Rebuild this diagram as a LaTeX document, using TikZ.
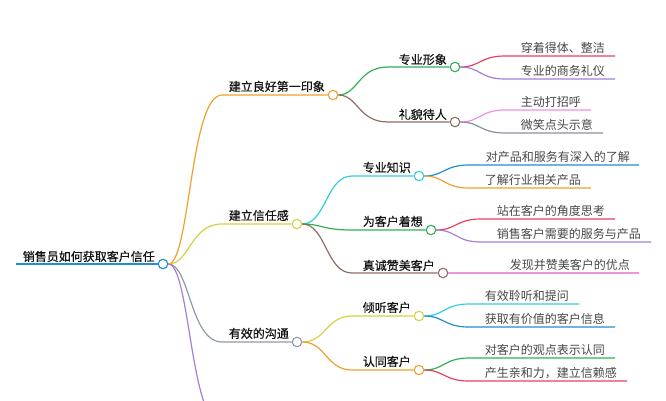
\documentclass[tikz,border=0pt]{standalone}
\usepackage{fontspec}
\setmainfont{Noto Sans CJK SC}
\newfontfamily\boldcjk[FakeBold=0.6]{Noto Sans CJK SC}
\usetikzlibrary{calc}
\tikzset{
  mainlabel/.style={anchor=base east,inner sep=0pt,font=\boldcjk\fontsize{12pt}{14pt}\selectfont,text=black!92},
  leaflabel/.style={anchor=base east,inner sep=0pt,font=\fontsize{12pt}{14pt}\selectfont,text=black!72},
  knob/.style={circle,draw=#1,fill=white,line width=1.1pt,minimum size=9.5pt,inner sep=0pt},
  branch/.style={draw=#1,line width=1.2pt}
}
\definecolor{cblue}{HTML}{1F8FD0}
\definecolor{corange}{HTML}{F0A030}
\definecolor{cyellow}{HTML}{D8D040}
\definecolor{cgray}{HTML}{9098A8}
\definecolor{cpurple}{HTML}{A080D8}
\definecolor{cgreen}{HTML}{30B050}
\definecolor{cbrown}{HTML}{8D6E63}
\definecolor{ccyan}{HTML}{30D0E0}
\definecolor{cred}{HTML}{E84060}
\definecolor{cpink}{HTML}{F090E0}
\definecolor{cslate}{HTML}{8890A0}
\begin{document}
\begin{tikzpicture}[x=1pt,y=-1pt]
  \useasboundingbox (0,0) rectangle (666,400);
  %%%%% root %%%%%
  \coordinate (rootstart) at (16,264);
  \node[knob=cblue] (root) at (163,264) {};
  \draw[branch=cblue] (rootstart) -- (root);
  \node[mainlabel] at (155,261) {销售员如何获取客户信任};

  %%%%% level one %%%%%
  \coordinate (impa) at (222,95);
  \coordinate (trusta) at (222,224);
  \coordinate (talka) at (222,342);
  \coordinate (lasta) at (222,425);
  \node[knob=corange] (imp) at (333,95) {};
  \node[knob=cyellow] (trust) at (297,224) {};
  \node[knob=cgray] (talk) at (297,342) {};
  \draw[branch=corange] (root) .. controls (190,264) and (190,95) .. (impa) -- (imp);
  \draw[branch=cyellow] (root) .. controls (190,264) and (190,224) .. (trusta) -- (trust);
  \draw[branch=cgray] (root) .. controls (190,264) and (190,342) .. (talka) -- (talk);
  \draw[branch=cpurple] (root) .. controls (190,264) and (190,425) .. (lasta);
  \node[mainlabel] at (325,91) {建立良好第一印象};
  \node[mainlabel] at (289,220) {建立信任感};
  \node[mainlabel] at (289,338) {有效的沟通};

  %%%%% level two %%%%%
  \coordinate (looka) at (388,67);
  \coordinate (mannera) at (388,122);
  \coordinate (knowa) at (352,176);
  \coordinate (thinka) at (352,230);
  \coordinate (praisea) at (352,273);
  \coordinate (heara) at (352,316);
  \coordinate (agreea) at (352,370);
  \node[knob=cgreen] (look) at (455,67) {};
  \node[knob=cbrown] (manner) at (455,122) {};
  \node[knob=ccyan] (know) at (419,176) {};
  \node[knob=cgreen] (think) at (431,230) {};
  \node[knob=cbrown] (praise) at (443,273) {};
  \node[knob=cyellow] (hear) at (419,316) {};
  \node[knob=corange] (agree) at (419,370) {};
  \draw[branch=cgreen] (imp) .. controls (358,95) and (358,67) .. (looka) -- (look);
  \draw[branch=cbrown] (imp) .. controls (358,95) and (358,122) .. (mannera) -- (manner);
  \draw[branch=ccyan] (trust) .. controls (326,224) and (326,176) .. (knowa) -- (know);
  \draw[branch=cgreen] (trust) .. controls (322,224) and (322,230) .. (thinka) -- (think);
  \draw[branch=cbrown] (trust) .. controls (326,224) and (326,273) .. (praisea) -- (praise);
  \draw[branch=cyellow] (talk) .. controls (326,342) and (326,316) .. (heara) -- (hear);
  \draw[branch=corange] (talk) .. controls (326,342) and (326,370) .. (agreea) -- (agree);
  \node[mainlabel] at (447,64) {专业形象};
  \node[mainlabel] at (447,119) {礼貌待人};
  \node[mainlabel] at (411,172) {专业知识};
  \node[mainlabel] at (423,226) {为客户着想};
  \node[mainlabel] at (435,270) {真诚赞美客户};
  \node[mainlabel] at (411,312) {倾听客户};
  \node[mainlabel] at (411,366) {认同客户};

  %%%%% leaves %%%%%
  \coordinate (lfa) at (615,56);
  \coordinate (lfb) at (615,79);
  \coordinate (lfc) at (591,110);
  \coordinate (lfd) at (603,133);
  \coordinate (lfe) at (639,165);
  \coordinate (lff) at (591,188);
  \coordinate (lfg) at (615,219);
  \coordinate (lfh) at (651,242);
  \coordinate (lfi) at (639,273);
  \coordinate (lfj) at (579,304);
  \coordinate (lfk) at (615,327);
  \coordinate (lfl) at (615,358);
  \coordinate (lfm) at (627,381);
  \draw[branch=cred] (look) .. controls (480,67) and (480,56) .. (505,56) -- (lfa);
  \draw[branch=cpurple] (look) .. controls (480,67) and (480,79) .. (505,79) -- (lfb);
  \draw[branch=cpink] (manner) .. controls (480,122) and (480,110) .. (505,110) -- (lfc);
  \draw[branch=cslate] (manner) .. controls (480,122) and (480,133) .. (505,133) -- (lfd);
  \draw[branch=cblue] (know) .. controls (444,176) and (444,165) .. (469,165) -- (lfe);
  \draw[branch=corange] (know) .. controls (444,176) and (444,188) .. (469,188) -- (lff);
  \draw[branch=cred] (think) .. controls (456,230) and (456,219) .. (481,219) -- (lfg);
  \draw[branch=cpurple] (think) .. controls (456,230) and (456,242) .. (481,242) -- (lfh);
  \draw[branch=cpink] (praise) -- (lfi);
  \draw[branch=ccyan] (hear) .. controls (444,316) and (444,304) .. (469,304) -- (lfj);
  \draw[branch=cblue] (hear) .. controls (444,316) and (444,327) .. (469,327) -- (lfk);
  \draw[branch=cgreen] (agree) .. controls (444,370) and (444,358) .. (469,358) -- (lfl);
  \draw[branch=cred] (agree) .. controls (444,370) and (444,381) .. (469,381) -- (lfm);
  \node[leaflabel] at (605,52) {穿着得体、整洁};
  \node[leaflabel] at (605,75) {专业的商务礼仪};
  \node[leaflabel] at (581,106) {主动打招呼};
  \node[leaflabel] at (593,129) {微笑点头示意};
  \node[leaflabel] at (630,161) {对产品和服务有深入的了解};
  \node[leaflabel] at (581,184) {了解行业相关产品};
  \node[leaflabel] at (605,215) {站在客户的角度思考};
  \node[leaflabel] at (641,238) {销售客户需要的服务与产品};
  \node[leaflabel] at (630,269) {发现并赞美客户的优点};
  \node[leaflabel] at (569,300) {有效聆听和提问};
  \node[leaflabel] at (605,323) {获取有价值的客户信息};
  \node[leaflabel] at (605,354) {对客户的观点表示认同};
  \node[leaflabel] at (617,377) {产生亲和力，建立信赖感};
\end{tikzpicture}
\end{document}
